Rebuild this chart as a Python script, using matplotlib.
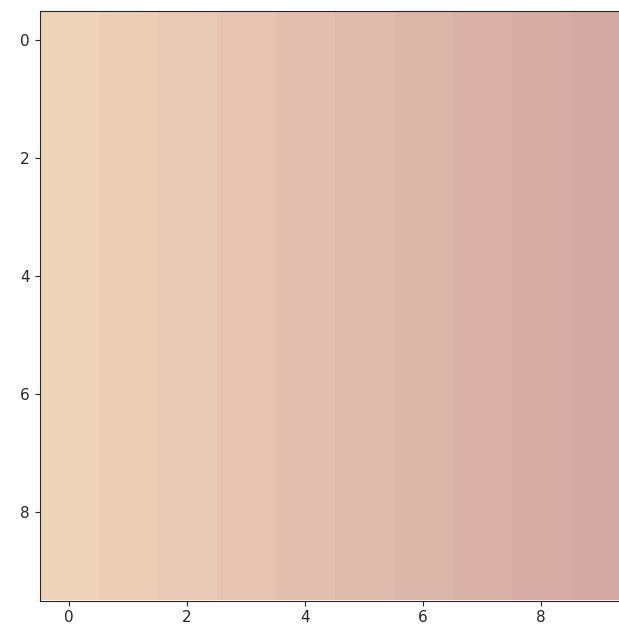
import numpy as np
import matplotlib
matplotlib.use("Agg")
import matplotlib.pyplot as plt
from matplotlib.colors import LinearSegmentedColormap

# data: each row 0..9
row_values = [0, 1, 2, 3, 4, 5, 6, 7, 8, 9]
n_rows = 10
data = np.array([row_values for _ in range(n_rows)])

start_color = "#efd3b9"
end_color = "#d4a8a3"
cmap = LinearSegmentedColormap.from_list("peach", [start_color, end_color])

W, H = 619, 634
fig = plt.figure(figsize=(W / 100, H / 100), dpi=100)
ax = fig.add_axes([39.5 / W, (H - 600.5) / H, 590 / W, 590 / H])
ax.imshow(data, cmap=cmap, aspect="equal")
ax.set_xticks([0, 2, 4, 6, 8])
ax.set_yticks([0, 2, 4, 6, 8])
ax.tick_params(labelsize=11, labelcolor="#262626", color="#262626")
for s in ax.spines.values():
    s.set_color("#262626")
fig.savefig("out.png", dpi=100)
